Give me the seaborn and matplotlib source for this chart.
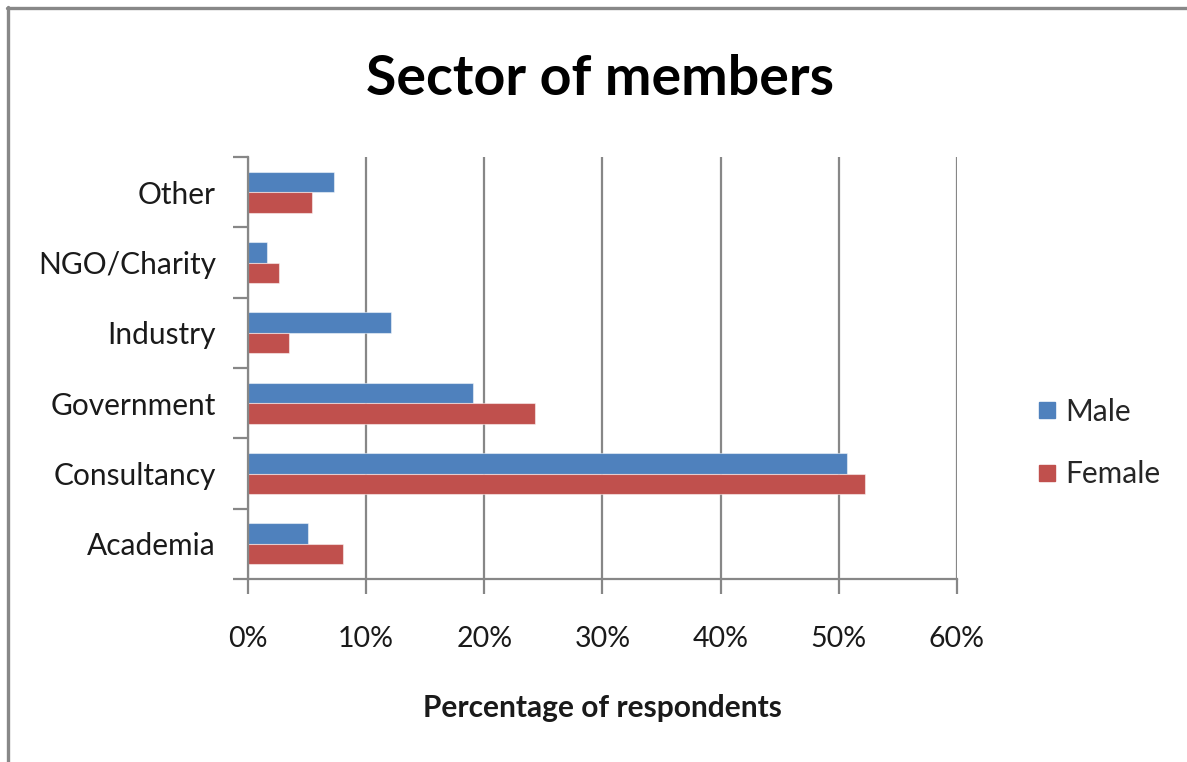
import matplotlib
matplotlib.use("Agg")
import matplotlib.pyplot as plt
from matplotlib.lines import Line2D
from matplotlib.ticker import FixedLocator, PercentFormatter
import seaborn as sns
import pandas as pd

# Survey results: share of respondents per sector, by gender (%)
sectors = ["Other", "NGO/Charity", "Industry", "Government", "Consultancy", "Academia"]
male = [7.3, 1.6, 12.1, 19.0, 50.7, 5.1]
female = [5.4, 2.6, 3.5, 24.3, 52.2, 8.0]
genders = ["Male", "Female"]
x_ticks = [0, 10, 20, 30, 40, 50, 60]

df = pd.DataFrame({
    "Sector": sectors * 2,
    "Gender": ["Male"] * len(sectors) + ["Female"] * len(sectors),
    "Percent": male + female,
})

sns.set_style("white")
plt.rcParams["font.family"] = ["Lato", "DejaVu Sans"]

GRID = "#878787"
palette = {"Male": "#4F81BD", "Female": "#C0504D"}

fig = plt.figure(figsize=(11.87, 7.62), dpi=100)
ax = fig.add_axes([248 / 1187, 1 - 579 / 762, (957 - 248) / 1187, (579 - 157) / 762])

sns.barplot(data=df, y="Sector", x="Percent", hue="Gender", order=sectors,
            hue_order=genders, palette=palette, orient="h", width=0.58,
            gap=0, saturation=1, ax=ax, linewidth=0.8, edgecolor="#ffffff80")

ax.set_xlim(0, 60)
ax.set_ylim(len(sectors) - 0.5, -0.5)

# vertical gridlines
ax.xaxis.set_major_locator(FixedLocator(x_ticks))
ax.xaxis.set_major_formatter(PercentFormatter(decimals=0))
ax.grid(axis="x", color=GRID, linewidth=1.6)
ax.grid(axis="y", visible=False)
ax.set_axisbelow(True)

# category boundary tick marks on the y axis
ax.yaxis.set_minor_locator(FixedLocator([i - 0.5 for i in range(len(sectors) + 1)]))
ax.tick_params(axis="y", which="minor", length=11, width=1.6, color=GRID, left=True)
ax.tick_params(axis="y", which="major", length=0, pad=23, labelsize=21.5, labelcolor="#1a1a1a")
ax.tick_params(axis="x", which="major", length=11, width=1.6, color=GRID, bottom=True,
               direction="out", pad=23, labelsize=20.5, labelcolor="#1a1a1a")

for side in ["top", "right"]:
    ax.spines[side].set_visible(False)
for side in ["left", "bottom"]:
    ax.spines[side].set_color(GRID)
    ax.spines[side].set_linewidth(1.6)

ax.set_ylabel("")
ax.set_xlabel("Percentage of respondents", fontsize=21.5, fontweight="bold",
              color="#1a1a1a", labelpad=30)

fig.suptitle("Sector of members", x=600 / 1187, y=1 - 54 / 762, va="top",
             fontsize=40, fontweight="bold", color="#000000")

# legend to the right of the plot
handles = [Line2D([], [], marker="s", linestyle="", markersize=11,
                  markerfacecolor=palette[g], markeredgecolor=palette[g]) for g in genders]
ax.legend(handles, genders, loc="center left", bbox_to_anchor=(1020 / 1187, 1 - 443 / 762),
          bbox_transform=fig.transFigure, frameon=False, fontsize=21.5,
          handletextpad=0.1, labelspacing=1.15, handlelength=1.0, borderaxespad=0)

# outer chart frame (top and left edges)
fig.add_artist(Line2D([7 / 1187, 1.0], [1 - 7.5 / 762] * 2, transform=fig.transFigure,
                      color="#888888", linewidth=2.4))
fig.add_artist(Line2D([7.5 / 1187] * 2, [0.0, 1 - 7 / 762], transform=fig.transFigure,
                      color="#888888", linewidth=2.4))

fig.savefig("out.png", dpi=100, facecolor="white")
